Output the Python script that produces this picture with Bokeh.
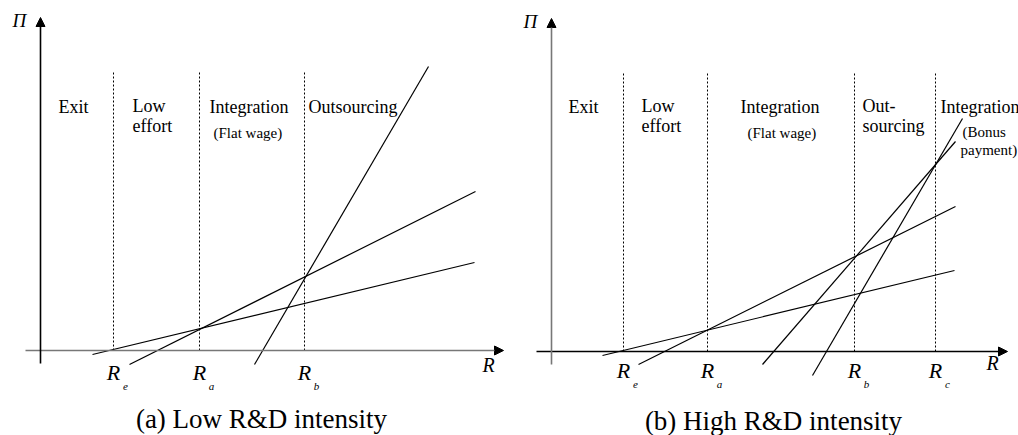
from bokeh.plotting import figure
from bokeh.models import Range1d, Arrow, NormalHead
from bokeh.layouts import row
from bokeh.core.properties import value
from bokeh.embed import file_html
from bokeh.resources import INLINE

SERIF = value("Liberation Serif")

# ---------------- Panel (a): Low R&D intensity ----------------
a_thresholds = [73, 159, 264]
a_threshold_subs = ["e", "a", "b"]
a_line_x0 = [52, 89, 214]
a_line_y0 = [-4, -14, -14]
a_line_x1 = [434, 435, 388]
a_line_y1 = [88, 159, 284]
a_region_text = ["Exit", "Low", "effort", "Integration", "Outsourcing"]
a_region_x = [18, 92, 92, 169, 268]
a_region_y = [237, 238, 218, 237, 237]
a_small_text = ["(Flat wage)"]
a_small_x = [173]
a_small_y = [212]
a_caption = "(a) Low R&D intensity"

# ---------------- Panel (b): High R&D intensity ----------------
b_thresholds = [72, 156, 303, 384]
b_threshold_subs = ["e", "a", "b", "c"]
b_line_x0 = [51, 87, 211, 261]
b_line_y0 = [-4, -13, -13, -24]
b_line_x1 = [403, 404, 404, 411]
b_line_y1 = [81, 145, 210, 233]
b_region_text = ["Exit", "Low", "effort", "Integration", "Out-", "sourcing", "Integration"]
b_region_x = [17, 90, 90, 189, 311, 311, 389]
b_region_y = [238, 239, 219, 238, 239, 219, 238]
b_small_text = ["(Flat wage)", "(Bonus", "payment)"]
b_small_x = [196, 411, 409]
b_small_y = [213, 214, 196]
b_caption = "(b) High R&D intensity"

SHIFT = 0.37  # baseline correction (fraction of font size)


def add_text(p, xs, ys, texts, size, style="normal", align="left"):
    p.text(x=xs, y=[y + SHIFT * size for y in ys], text=texts, text_font=SERIF,
           text_font_size=f"{size}px", text_font_style=style,
           text_baseline="alphabetic", text_align=align, text_color="black")


def make_panel(ox, oy, thresholds, subs, lx0, ly0, lx1, ly1,
               rtext, rx, ry, stext, sx, sy, caption, cap_x, cap_y,
               dash_top, r_base, sub_base, xaxis_color, yaxis_color,
               x_end, rlabel_x, rlabel_y):
    p = figure(width=509, height=435,
               x_range=Range1d(-ox, 509 - ox), y_range=Range1d(oy - 435, oy),
               output_backend="svg", toolbar_location=None, min_border=0,
               x_axis_location=None, y_axis_location=None)
    p.grid.visible = False
    p.outline_line_color = None
    p.background_fill_color = "white"
    p.border_fill_color = "white"

    # dotted threshold lines
    p.segment(x0=thresholds, y0=[0] * len(thresholds),
              x1=thresholds, y1=[dash_top] * len(thresholds),
              line_color="black", line_width=1, line_dash="2 2")

    # axes
    p.add_layout(Arrow(end=NormalHead(size=9, fill_color="black", line_color="black"),
                       x_start=-15, y_start=0, x_end=x_end, y_end=0,
                       line_color=xaxis_color, line_width=1.6))
    p.add_layout(Arrow(end=NormalHead(size=9, fill_color="black", line_color="black"),
                       x_start=0, y_start=-13, x_end=0, y_end=333,
                       line_color=yaxis_color, line_width=1.6))

    # profit lines
    p.segment(x0=lx0, y0=ly0, x1=lx1, y1=ly1, line_color="black", line_width=1.2)

    # region labels
    add_text(p, rx, ry, rtext, 18)
    add_text(p, sx, sy, stext, 15)

    # threshold labels
    add_text(p, thresholds, [r_base] * len(thresholds), ["R"] * len(thresholds),
             22, "italic", "center")
    add_text(p, [t + 12 for t in thresholds], [sub_base] * len(thresholds), subs,
             11, "italic", "center")

    # axis labels
    add_text(p, [rlabel_x], [rlabel_y], ["R"], 20, "italic")
    add_text(p, [-28], [323], ["Π"], 19, "italic")

    # caption
    add_text(p, [cap_x], [cap_y], [caption], 27, "normal", "center")
    return p


pa = make_panel(40, 350, a_thresholds, a_threshold_subs,
                a_line_x0, a_line_y0, a_line_x1, a_line_y1,
                a_region_text, a_region_x, a_region_y,
                a_small_text, a_small_x, a_small_y,
                a_caption, 221, -78, 280, -30, -40, "#777777", "black",
                463, 442, -22)
pb = make_panel(42, 351, b_thresholds, b_threshold_subs,
                b_line_x0, b_line_y0, b_line_x1, b_line_y1,
                b_region_text, b_region_x, b_region_y,
                b_small_text, b_small_x, b_small_y,
                b_caption, 222, -79, 278, -27, -37, "black", "#777777",
                456, 435, -19)

layout = row(pa, pb)
open("out.html", "w").write(file_html(layout, INLINE))
